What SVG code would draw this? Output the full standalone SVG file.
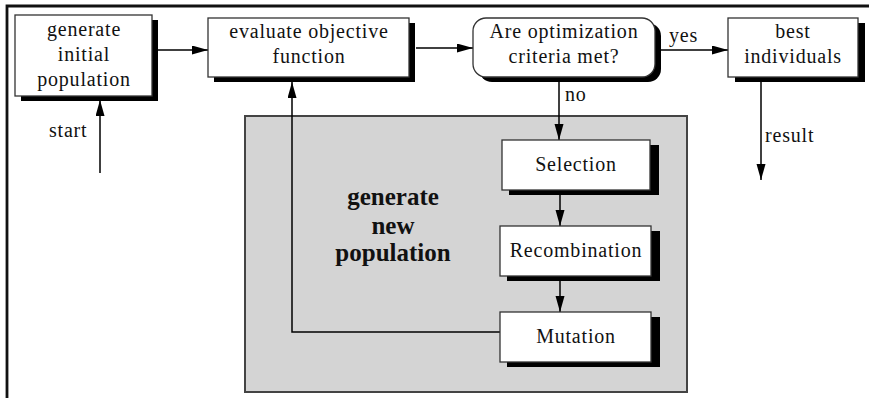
<svg xmlns="http://www.w3.org/2000/svg" width="869" height="398" viewBox="0 0 869 398">
<defs>
<marker id="ah" markerUnits="userSpaceOnUse" markerWidth="16" markerHeight="10" refX="16" refY="4.5" orient="auto">
<path d="M0,0 L16,4.5 L0,9 z" fill="#000"/>
</marker>
<style>
.box{fill:#fff;stroke:#333;stroke-width:1.3}
.sh{fill:#000}
.t{font-family:"Liberation Serif","Times New Roman",serif;font-size:20px;letter-spacing:0.8px;fill:#111;text-anchor:middle}
.l{font-family:"Liberation Serif","Times New Roman",serif;font-size:20px;letter-spacing:0.8px;fill:#111}
.b{font-family:"Liberation Serif","Times New Roman",serif;font-size:25px;font-weight:bold;fill:#111;text-anchor:middle}
.c{fill:none;stroke:#000;stroke-width:1.5}
</style>
</defs>
<rect width="869" height="398" fill="#fff"/>
<path d="M7,398 V6 H869" fill="none" stroke="#111" stroke-width="2.8"/>

<g id="region">
<rect x="245" y="116" width="442" height="276" fill="#d4d4d4" stroke="#444" stroke-width="2"/>
<text class="b" x="393" y="205">generate</text>
<text class="b" x="393" y="234">new</text>
<text class="b" x="393" y="261">population</text>
</g>

<g id="connectors">
<line class="c" x1="152" y1="50" x2="208" y2="50" marker-end="url(#ah)"/>
<line class="c" x1="416" y1="48" x2="473" y2="48" marker-end="url(#ah)"/>
<line class="c" x1="660" y1="50" x2="728" y2="50" marker-end="url(#ah)"/>
<line class="c" x1="100" y1="173" x2="100" y2="100" marker-end="url(#ah)"/>
<line class="c" x1="761" y1="82" x2="761" y2="180" marker-end="url(#ah)"/>
<line class="c" x1="559" y1="82" x2="559" y2="140" marker-end="url(#ah)"/>
<line class="c" x1="560" y1="194" x2="560" y2="226" marker-end="url(#ah)"/>
<line class="c" x1="560" y1="280" x2="560" y2="312" marker-end="url(#ah)"/>
<polyline class="c" points="500,332 292,332 292,82" marker-end="url(#ah)"/>
<text class="l" x="49" y="137">start</text>
<text class="l" x="669" y="42">yes</text>
<text class="l" x="565" y="101">no</text>
<text class="l" x="765" y="142">result</text>
</g>

<g id="init">
<rect class="sh" x="21" y="20" width="137" height="81"/>
<rect class="box" x="15" y="15" width="137" height="81"/>
<text class="t" x="84" y="36">generate</text>
<text class="t" x="84" y="61">initial</text>
<text class="t" x="84" y="86">population</text>
</g>

<g id="evaluate">
<rect class="sh" x="214" y="23" width="201" height="59"/>
<rect class="box" x="208" y="18" width="201" height="59"/>
<text class="t" x="309" y="38">evaluate objective</text>
<text class="t" x="309" y="63">function</text>
</g>

<g id="criteria">
<rect class="sh" x="479" y="23" width="182" height="59" rx="13"/>
<rect class="box" x="473" y="18" width="182" height="59" rx="13"/>
<text class="t" x="564" y="38">Are optimization</text>
<text class="t" x="564" y="63">criteria met?</text>
</g>

<g id="best">
<rect class="sh" x="735" y="23" width="130" height="59"/>
<rect class="box" x="728" y="18" width="130" height="59"/>
<text class="t" x="793" y="38">best</text>
<text class="t" x="793" y="63">individuals</text>
</g>

<g id="selection">
<rect class="sh" x="509" y="145" width="150" height="50"/>
<rect class="box" x="502" y="140" width="148" height="50"/>
<text class="t" x="576" y="171">Selection</text>
</g>

<g id="recombination">
<rect class="sh" x="507" y="231" width="153" height="50"/>
<rect class="box" x="500" y="226" width="151" height="50"/>
<text class="t" x="576" y="257">Recombination</text>
</g>

<g id="mutation">
<rect class="sh" x="507" y="317" width="153" height="50"/>
<rect class="box" x="500" y="312" width="151" height="50"/>
<text class="t" x="576" y="343">Mutation</text>
</g>
</svg>
